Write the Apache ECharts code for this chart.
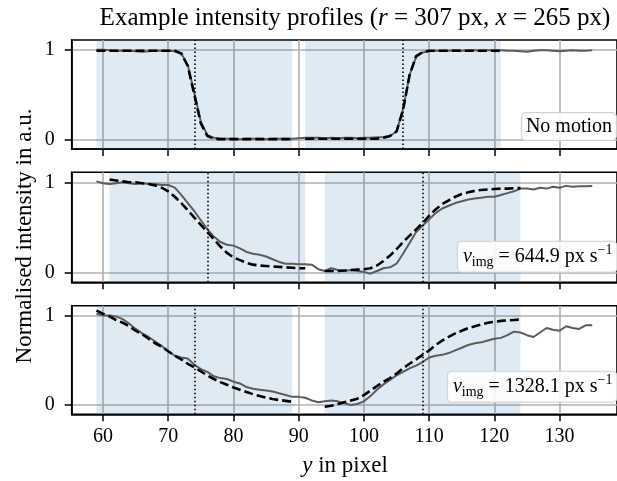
<!DOCTYPE html>
<html><head><meta charset="utf-8">
<script src="https://cdn.jsdelivr.net/npm/echarts@6/dist/echarts.min.js"></script>
<style>html,body{margin:0;padding:0;background:#fff}#c{width:617px;height:481px}</style>
</head><body><div id="c"></div>
<script>
// ---- data ----
const xStart = 59;            // first pixel position of measured profiles (59..135)
const xTicks = [60, 70, 80, 90, 100, 110, 120, 130];
const yTicks = [0, 1];

// Panel 1: no motion
const measured1 = [
  1.0, 1.0, 0.995, 0.99, 0.99, 0.99, 0.985, 0.98, 0.985, 0.99,
  0.99, 0.99, 0.985, 0.96, 0.83, 0.52, 0.2, 0.05, 0.02, 0.01,
  0.01, 0.01, 0.005, 0.01, 0.01, 0.01, 0.005, 0.01, 0.01, 0.01,
  0.01, 0.015, 0.02, 0.02, 0.02, 0.015, 0.02, 0.015, 0.02, 0.02,
  0.015, 0.02, 0.02, 0.025, 0.03, 0.04, 0.09, 0.34, 0.72, 0.92,
  0.97, 0.985, 0.99, 0.99, 0.99, 0.995, 0.99, 0.995, 0.995, 0.99,
  0.995, 0.995, 0.995, 0.99, 0.99, 0.985, 0.98, 0.99, 0.995, 0.995,
  0.99, 0.985, 0.99, 0.995, 0.99, 0.99, 0.995
];
const model1Start = 59;
const model1 = [
  0.99, 0.99, 0.99, 0.99, 0.99, 0.99, 0.99, 0.99, 0.99, 0.99,
  0.99, 0.99, 0.99, 0.96, 0.82, 0.5, 0.18, 0.04, 0.01, 0.005,
  0.005, 0.005, 0.005, 0.005, 0.005, 0.005, 0.005, 0.005, 0.005, 0.005,
  0.005, null, 0.01, 0.01, 0.01, 0.01, 0.01, 0.01, 0.01, 0.01,
  0.01, 0.01, 0.01, 0.01, 0.02, 0.04, 0.09, 0.33, 0.72, 0.93,
  0.975, 0.99, 0.99, 0.99, 0.99, 0.99, 0.99, 0.99, 0.99, 0.99,
  0.99, 0.99, 0.99
];
const spans1 = [[59, 89], [91, 121]];
const edges1 = [74, 106];

// Panel 2: v_img = 644.9 px/s
const measured2 = [
  1.01, 0.99, 0.98, 0.99, 1.0, 0.99, 0.98, 0.99, 0.98, 0.98,
  0.97, 0.97, 0.94, 0.86, 0.77, 0.68, 0.58, 0.48, 0.40, 0.34,
  0.31, 0.30, 0.27, 0.23, 0.21, 0.20, 0.18, 0.15, 0.12, 0.10,
  0.10, 0.095, 0.095, 0.09, 0.04, 0.02, 0.05, 0.03, 0.02, 0.03,
  0.02, 0.01, -0.01, 0.02, 0.05, 0.06, 0.10, 0.21, 0.33, 0.45,
  0.52, 0.59, 0.66, 0.71, 0.74, 0.77, 0.79, 0.81, 0.82, 0.83,
  0.84, 0.84, 0.86, 0.88, 0.90, 0.93, 0.93, 0.92, 0.94, 0.93,
  0.95, 0.94, 0.96, 0.95, 0.955, 0.955, 0.96
];
const model2Start = 61;
const model2 = [
  1.03, 1.02, 1.01, 1.0, 1.0, 0.99, 0.98, 0.965, 0.94, 0.90,
  0.84, 0.77, 0.69, 0.61, 0.53, 0.45, 0.37, 0.29, 0.22, 0.17,
  0.14, 0.11, 0.09, 0.08, 0.075, 0.07, 0.065, 0.06, 0.055, 0.05,
  0.05, null, null, 0.02, 0.02, 0.02, 0.025, 0.03, 0.035, 0.04,
  0.05, 0.08, 0.13, 0.19, 0.26, 0.34, 0.41, 0.48, 0.55, 0.63,
  0.70, 0.76, 0.80, 0.84, 0.87, 0.89, 0.905, 0.915, 0.92, 0.925,
  0.93, 0.93, 0.935, 0.935
];
const spans2 = [[61, 91], [94, 124]];
const edges2 = [76, 109];

// Panel 3: v_img = 1328.1 px/s
const measured3 = [
  1.02, 1.0, 1.0, 0.99, 0.96, 0.91, 0.85, 0.80, 0.76, 0.71,
  0.66, 0.60, 0.55, 0.53, 0.52, 0.45, 0.40, 0.37, 0.32, 0.30,
  0.29, 0.26, 0.24, 0.20, 0.18, 0.17, 0.16, 0.15, 0.13, 0.11,
  0.09, 0.09, 0.08, 0.05, 0.03, 0.04, 0.05, 0.04, 0.02, 0.0,
  0.01, 0.04, 0.10, 0.17, 0.23, 0.28, 0.33, 0.37, 0.41, 0.44,
  0.48, 0.53, 0.55, 0.56, 0.58, 0.61, 0.64, 0.67, 0.69, 0.70,
  0.72, 0.74, 0.75, 0.78, 0.82, 0.81, 0.78, 0.76, 0.81, 0.86,
  0.84, 0.83, 0.88, 0.86, 0.85, 0.89, 0.89
];
const model3Start = 59;
const model3 = [
  1.055, 1.02, 0.99, 0.95, 0.92, 0.88, 0.83, 0.79, 0.74, 0.69,
  0.65, 0.60, 0.55, 0.51, 0.46, 0.42, 0.375, 0.33, 0.29, 0.255,
  0.225, 0.195, 0.17, 0.145, 0.12, 0.10, 0.08, 0.067, 0.055, 0.045,
  0.035, null, null, null, null, -0.02, -0.01, 0.01, 0.03, 0.05,
  0.07, 0.11, 0.16, 0.21, 0.26, 0.30, 0.35, 0.41, 0.46, 0.51,
  0.56, 0.61, 0.67, 0.72, 0.76, 0.80, 0.83, 0.86, 0.88, 0.90,
  0.92, 0.93, 0.94, 0.945, 0.95, 0.955
];
const spans3 = [[59, 89], [94, 124]];
const edges3 = [74, 109];

const titleParts = ['Example intensity profiles (', 'r', ' = 307 px, ', 'x', ' = 265 px)'];
const yLabel = 'Normalised intensity in a.u.';
const xLabelParts = ['y', ' in pixel'];
const panelLabels = ['No motion', '644.9', '1328.1'];

// ---- build ----
const FONT = "'Liberation Serif', 'Times New Roman', serif";
const pairs = (start, arr) => arr.map((v, i) => [start + i, v === null ? '-' : v]);

const panels = [
  {meas: measured1, mStart: model1Start, model: model1, spans: spans1, edges: edges1},
  {meas: measured2, mStart: model2Start, model: model2, spans: spans2, edges: edges2},
  {meas: measured3, mStart: model3Start, model: model3, spans: spans3, edges: edges3}
];
const gridPos = [{top: 40, height: 109}, {top: 172.3, height: 110}, {top: 305.7, height: 108.6}];

const grid = gridPos.map(g => ({left: 71.7, right: -11, top: g.top, height: g.height,
  show: true, borderColor: '#000', borderWidth: 1.6, backgroundColor: 'transparent'}));

const xAxis = gridPos.map((g, i) => ({
  gridIndex: i, type: 'value', min: 55.2, max: 138.8,
  axisLine: {show: true, onZero: false, lineStyle: {color: '#000', width: 1.6}},
  axisTick: {show: true, customValues: xTicks, length: 7, lineStyle: {color: '#000', width: 1.5}},
  axisLabel: {show: i === 2, customValues: xTicks, fontFamily: FONT, fontSize: 20, color: '#000', margin: 12},
  splitLine: {show: true, lineStyle: {color: '#b0b0b0', width: 1.6}}
}));
const yAxis = gridPos.map((g, i) => ({
  gridIndex: i, type: 'value', min: -0.105, max: 1.11,
  axisLine: {show: true, onZero: false, lineStyle: {color: '#000', width: 1.6}},
  axisTick: {show: true, customValues: yTicks, length: 7, lineStyle: {color: '#000', width: 1.5}},
  axisLabel: {customValues: yTicks, fontFamily: FONT, fontSize: 20, color: '#000', margin: 17},
  splitLine: {show: true, lineStyle: {color: '#b0b0b0', width: 1.6}}
}));

const series = [];
panels.forEach((p, i) => {
  series.push({
    type: 'line', xAxisIndex: i, yAxisIndex: i, data: pairs(xStart, p.meas),
    symbol: 'none', showSymbol: false, z: 3, silent: true,
    lineStyle: {color: '#5c5c5c', width: 2},
    markArea: {silent: true, itemStyle: {color: 'rgba(31,119,180,0.15)'},
      data: p.spans.map(s => [{xAxis: s[0]}, {xAxis: s[1]}])}
  });
  series.push({
    type: 'line', xAxisIndex: i, yAxisIndex: i, data: pairs(p.mStart, p.model),
    symbol: 'none', showSymbol: false, z: 4, silent: true, connectNulls: false,
    lineStyle: {color: '#000', width: 2.6, type: [9, 4]},
    markLine: {silent: true, symbol: ['none', 'none'], label: {show: false},
      lineStyle: {color: '#000', type: [1.6, 2.4], width: 1.6},
      data: p.edges.map(v => ({xAxis: v}))}
  });
});

const boxStyle = {backgroundColor: 'rgba(255,255,255,0.85)', borderColor: '#d0d0d0', borderWidth: 1,
  borderRadius: 4, align: 'right', verticalAlign: 'bottom'};
const vRich = {
  v: {fontFamily: FONT, fontStyle: 'italic', fontSize: 20, lineHeight: 26, verticalAlign: 'middle'},
  s: {fontFamily: FONT, fontSize: 14, lineHeight: 20, verticalAlign: 'bottom'},
  n: {fontFamily: FONT, fontSize: 20, lineHeight: 26, verticalAlign: 'middle'},
  p: {fontFamily: FONT, fontSize: 14, lineHeight: 17, verticalAlign: 'top'}
};
const vText = val => '{v|v}{s|img}{n| = ' + val + ' px s}{p|\u22121}';

const graphic = [
  {type: 'text', x: 355, y: 18, style: {
    text: '{n|' + titleParts[0] + '}{i|' + titleParts[1] + '}{n|' + titleParts[2] + '}{i|' + titleParts[3] + '}{n|' + titleParts[4] + '}',
    rich: {n: {fontFamily: FONT, fontSize: 25, fill: '#000'}, i: {fontFamily: FONT, fontSize: 25, fontStyle: 'italic', fill: '#000'}},
    align: 'center', verticalAlign: 'middle'}},
  {type: 'text', x: 25, y: 236, rotation: Math.PI / 2, style: {
    text: yLabel, font: '23px ' + FONT, fill: '#000', align: 'center', verticalAlign: 'middle'}},
  {type: 'text', x: 345, y: 466, style: {
    text: '{i|' + xLabelParts[0] + '}{n|' + xLabelParts[1] + '}',
    rich: {n: {fontFamily: FONT, fontSize: 23, fill: '#000'}, i: {fontFamily: FONT, fontSize: 23, fontStyle: 'italic', fill: '#000'}},
    align: 'center', verticalAlign: 'middle'}},
  {type: 'text', x: 616, y: 140, z: 100, style: Object.assign({}, boxStyle, {
    text: panelLabels[0], font: '20px ' + FONT, fill: '#000', padding: [4, 4, 3, 4]})},
  {type: 'text', x: 616.5, y: 271.7, z: 100, style: Object.assign({}, boxStyle, {
    text: vText(panelLabels[1]), rich: vRich, padding: [2, 4, 2, 5]})},
  {type: 'text', x: 616.5, y: 401.7, z: 100, style: Object.assign({}, boxStyle, {
    text: vText(panelLabels[2]), rich: vRich, padding: [2, 4, 2, 5]})}
];

const chart = echarts.init(document.getElementById('c'), null, {renderer: 'canvas'});
chart.setOption({animation: false, backgroundColor: '#fff', grid, xAxis, yAxis, series, graphic});
</script>
</body></html>
